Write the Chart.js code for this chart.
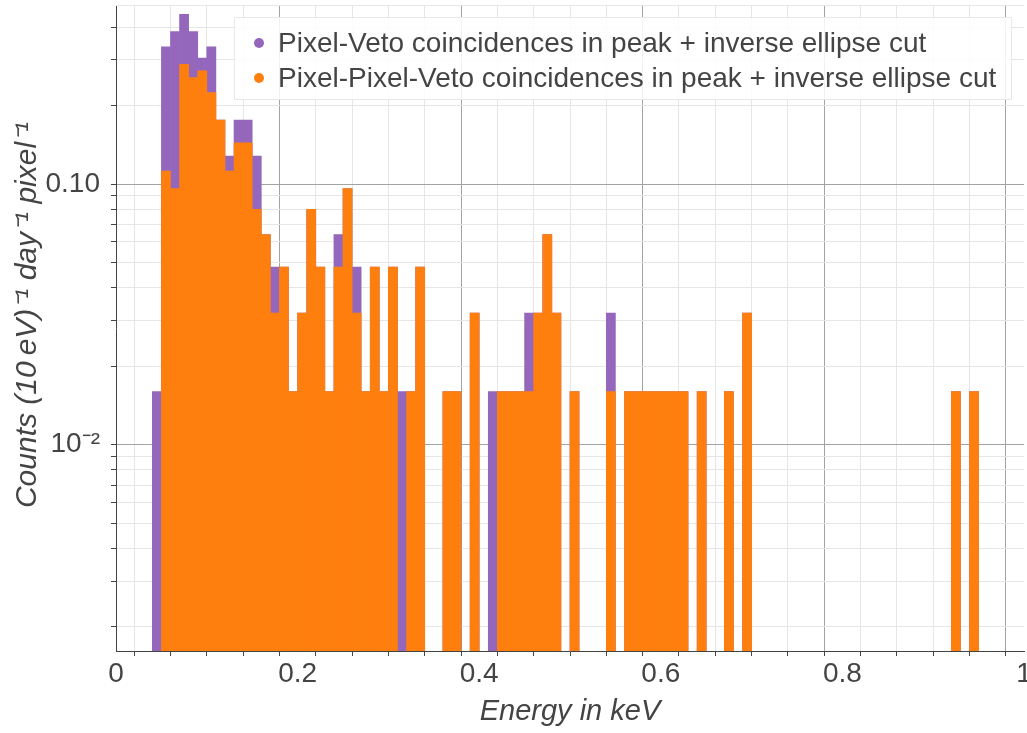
<!DOCTYPE html>
<html lang="en">
<head>
  <meta charset="UTF-8">
  <title>Pixel-Veto coincidences</title>
  <script src="https://cdn.jsdelivr.net/npm/chart.js"></script>
  <style>
    body { margin: 0; background: #fff; }
    .wrap { position: relative; width: 1027px; height: 733px; }
    .legend {
      position: absolute; left: 234px; top: 17px; width: 778px; height: 83px;
      box-sizing: border-box;
      background: rgba(255, 255, 255, 0.85);
      border: 1px solid #e8e8e8;
      font-family: "Liberation Sans", Arial, sans-serif; font-size: 28px; color: #444;
    }
    .legend .row { position: absolute; left: 43px; height: 34px; line-height: 34px; white-space: nowrap; }
    .legend .dot { position: absolute; left: -24px; top: 12px; width: 10px; height: 10px; border-radius: 50%; }
  </style>
</head>
<body>
<div class="wrap">
  <canvas id="chart" width="1027" height="733"></canvas>
  <div class="legend">
    <div class="row" style="top: 8px"><span class="dot" style="background:#9467bd"></span>Pixel-Veto coincidences in peak + inverse ellipse cut</div>
    <div class="row" style="top: 43px"><span class="dot" style="background:#ff7f0e"></span>Pixel-Pixel-Veto coincidences in peak + inverse ellipse cut</div>
  </div>
</div>

<script>
    // bin centres (keV), 10 eV bins, only non-empty ones
    const binCenter = [0.045, 0.055, 0.065, 0.075, 0.085, 0.095, 0.105, 0.115, 0.125, 0.135,
        0.145, 0.155, 0.165, 0.175, 0.185, 0.195, 0.205, 0.215, 0.225, 0.235,
        0.245, 0.255, 0.265, 0.275, 0.285, 0.295, 0.305, 0.315, 0.325, 0.335,
        0.365, 0.375, 0.395, 0.415, 0.425, 0.435, 0.445, 0.455, 0.465, 0.475,
        0.485, 0.505, 0.545, 0.565, 0.575, 0.585, 0.595, 0.605, 0.615, 0.625,
        0.645, 0.675, 0.695, 0.925, 0.945];

    const pixelVeto = [0.016, 0.336, 0.384, 0.448, 0.384, 0.304, 0.336, 0.176, 0.128, 0.176,
        0.176, 0.128, 0.064, 0.048, 0.048, 0.016, 0.032, 0.080, 0.048, 0.016,
        0.064, 0.096, 0.048, 0.016, 0.048, 0.016, 0.048, 0.016, 0.016, 0.048,
        0.016, 0.016, 0.032, 0.016, 0.016, 0.016, 0.016, 0.032, 0.032, 0.064,
        0.032, 0.016, 0.032, 0.016, 0.016, 0.016, 0.016, 0.016, 0.016, 0.016,
        0.016, 0.016, 0.032, 0.016, 0.016];

    const pixelPixelVeto = [null, 0.112, 0.096, 0.288, 0.256, 0.272, 0.224, 0.176, 0.112, 0.144,
        0.144, 0.080, 0.064, 0.032, 0.048, 0.016, 0.032, 0.080, 0.048, 0.016,
        0.048, 0.096, 0.032, 0.016, 0.048, 0.016, 0.048, null, 0.016, 0.048,
        0.016, 0.016, 0.032, null, 0.016, 0.016, 0.016, 0.016, 0.032, 0.064,
        0.032, 0.016, 0.016, 0.016, 0.016, 0.016, 0.016, 0.016, 0.016, 0.016,
        0.016, 0.016, 0.032, 0.016, 0.016];

    const xLabelValues = [0, 0.2, 0.4, 0.6, 0.8, 1];
    const xLabelText = ['0', '0.2', '0.4', '0.6', '0.8', '1'];
    const xMinorValues = [0.04, 0.08, 0.12, 0.16, 0.24, 0.28, 0.32, 0.36, 0.44, 0.48, 0.52, 0.56,
        0.64, 0.68, 0.72, 0.76, 0.84, 0.88, 0.92, 0.96];

    const yLabelValues = [0.01, 0.1];
    const yLabelText = ['10\u207B\u00B2', '0.10'];
    const yMinorValues = [0.002, 0.003, 0.004, 0.005, 0.006, 0.007, 0.008, 0.009,
        0.02, 0.03, 0.04, 0.05, 0.06, 0.07, 0.08, 0.09, 0.2, 0.3, 0.4];

    const yTitleText = 'Counts (10\u2009eV)\u207B\u00B9 day\u207B\u00B9 pixel\u207B\u00B9';
    const xTitleText = 'Energy in keV';

    const fontFamily = '"Liberation Sans", Arial, sans-serif';
    const majorGrid = '#a3a3a3';
    const minorGrid = '#e6e6e6';
    const textColor = '#444';

    function findIndex(list, v) {
        return list.findIndex(function (x) { return Math.abs(x - v) < 1e-9; });
    }

    function gridColor(list) {
        return function (ctx) {
            if (!ctx.tick) return minorGrid;
            return findIndex(list, ctx.tick.value) >= 0 ? majorGrid : minorGrid;
        };
    }

    // thin line along the top of the plot area and the rotated y title
    const framePlugin = {
        id: 'frame',
        beforeDatasetsDraw(chart) {
            const c = chart.ctx, a = chart.chartArea;
            c.save();
            c.strokeStyle = minorGrid;
            c.lineWidth = 1;
            c.beginPath();
            c.moveTo(a.left, a.top + 0.5);
            c.lineTo(a.right, a.top + 0.5);
            c.stroke();
            c.restore();
        },
        afterDraw(chart) {
            const c = chart.ctx;
            c.save();
            c.translate(28, 315);
            c.rotate(-Math.PI / 2);
            c.font = 'italic 30px ' + fontFamily;
            c.fillStyle = textColor;
            c.textAlign = 'center';
            c.textBaseline = 'middle';
            c.fillText(yTitleText, 0, 0);
            c.restore();
        }
    };

    const barStyle = {grouped: false, barPercentage: 1, categoryPercentage: 1, borderWidth: 0};

    new Chart(document.getElementById('chart'), {
        type: 'bar',
        data: {
            datasets: [
                Object.assign({
                    label: 'Pixel-Veto coincidences in peak + inverse ellipse cut',
                    data: binCenter.map(function (x, i) { return {x: x, y: pixelVeto[i]}; }),
                    backgroundColor: '#9467bd',
                    order: 1
                }, barStyle),
                Object.assign({
                    label: 'Pixel-Pixel-Veto coincidences in peak + inverse ellipse cut',
                    data: binCenter.map(function (x, i) { return {x: x, y: pixelPixelVeto[i]}; }),
                    backgroundColor: '#ff7f0e',
                    order: 0
                }, barStyle)
            ]
        },
        options: {
            responsive: false,
            animation: false,
            layout: {padding: {left: 0, top: 5, right: 3, bottom: 0}},
            plugins: {legend: {display: false}, tooltip: {enabled: false}},
            scales: {
                x: {
                    type: 'linear',
                    min: 0,
                    max: 1,
                    offset: false,
                    afterBuildTicks: function (s) {
                        s.ticks = xLabelValues.concat(xMinorValues).sort(function (a, b) { return a - b; })
                            .map(function (v) { return {value: v}; });
                    },
                    afterFit: function (s) {
                        s.height = 82;
                        s.paddingLeft = 0;
                        s.paddingRight = 0;
                    },
                    grid: {color: gridColor(xLabelValues), tickColor: textColor, tickLength: 5, lineWidth: 1},
                    border: {display: true, color: textColor, width: 1},
                    ticks: {
                        autoSkip: false,
                        maxRotation: 0,
                        padding: 1,
                        color: textColor,
                        font: {family: fontFamily, size: 28, lineHeight: 1.2},
                        callback: function (v) {
                            const i = findIndex(xLabelValues, v);
                            return i >= 0 ? xLabelText[i] : '';
                        }
                    },
                    title: {
                        display: true,
                        text: xTitleText,
                        color: textColor,
                        font: {family: fontFamily, size: 29, style: 'italic', lineHeight: 1.2},
                        padding: {top: 0, bottom: 4}
                    }
                },
                y: {
                    type: 'logarithmic',
                    min: 0.001617,
                    max: 0.486,
                    beginAtZero: false,
                    afterBuildTicks: function (s) {
                        s.ticks = yLabelValues.concat(yMinorValues).sort(function (a, b) { return a - b; })
                            .map(function (v) { return {value: v}; });
                    },
                    afterFit: function (s) {
                        s.width = 116;
                        s.paddingTop = 0;
                        s.paddingBottom = 0;
                    },
                    grid: {color: gridColor(yLabelValues), tickColor: textColor, tickLength: 5, lineWidth: 1},
                    border: {display: true, color: textColor, width: 1},
                    ticks: {
                        autoSkip: false,
                        padding: 11,
                        color: textColor,
                        font: {family: fontFamily, size: 28, lineHeight: 1.2},
                        callback: function (v) {
                            const i = findIndex(yLabelValues, v);
                            return i >= 0 ? yLabelText[i] : '';
                        }
                    }
                }
            }
        },
        plugins: [framePlugin]
    });
</script>
</body>
</html>
